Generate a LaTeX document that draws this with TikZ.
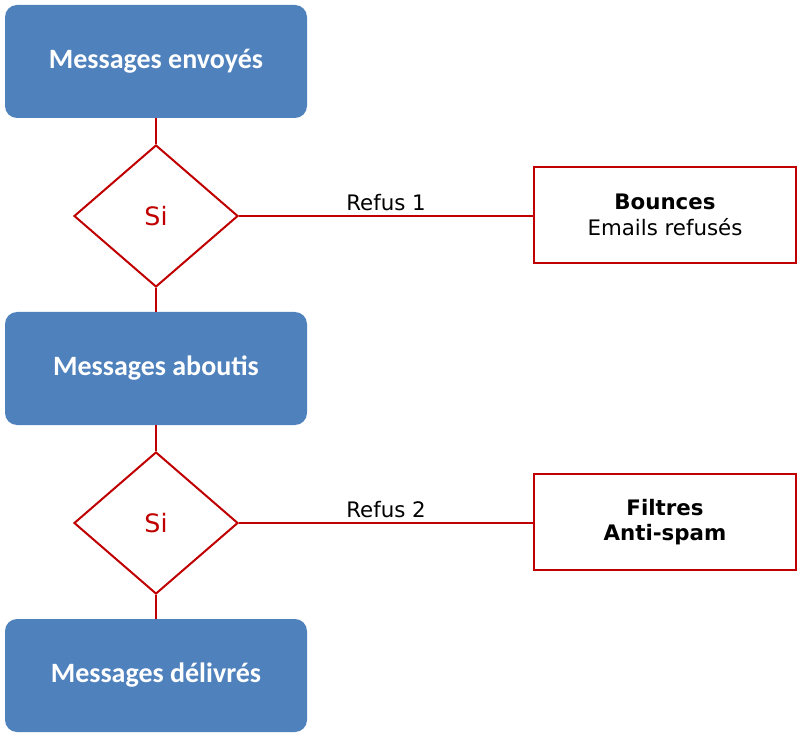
\documentclass[tikz,border=0pt]{standalone}
\usepackage{fontspec}
\setmainfont{DejaVu Sans}
\newfontfamily\boxfont{Carlito}
\usetikzlibrary{shapes.geometric}
\definecolor{boxblue}{HTML}{4F81BD}
\definecolor{refusred}{HTML}{C00000}
\begin{document}
\begin{tikzpicture}[x=0.75pt,y=-0.75pt]
    \tikzstyle{stage}=[rectangle,rounded corners=9pt,fill=boxblue,text=white,
      minimum width=226.5pt,minimum height=84.75pt,inner sep=0pt,
      font=\boxfont\bfseries\fontsize{21}{24}\selectfont]
    \tikzstyle{test}=[diamond,draw=refusred,line width=1.5pt,text=refusred,
      minimum width=123pt,minimum height=106.5pt,inner sep=0pt,aspect=1.15,
      font=\fontsize{19}{22}\selectfont]
    \tikzstyle{refus}=[rectangle,draw=refusred,line width=1.5pt,align=center,
      minimum width=196.5pt,minimum height=72pt,inner sep=0pt,
      font=\fontsize{16}{19}\selectfont]
    \tikzstyle{link}=[draw=refusred,line width=1.5pt]

    \useasboundingbox (0,0) rectangle (797,738);

    % main column
    \node[stage] (envoyes) at (156,61.5) {Messages envoyés};
    \node[test] (si-1) at (156,216) {Si};
    \node[stage] (aboutis) at (156,368.5) {Messages aboutis};
    \node[test] (si-2) at (156,523) {Si};
    \node[stage] (delivres) at (156,675.5) {Messages délivrés};

    % rejections
    \node[refus] (bounces) at (665,215) {\textbf{Bounces}\\Emails refusés};
    \node[refus] (filtres) at (665,522) {\textbf{Filtres}\\\textbf{Anti-spam}};

    \path[link] (envoyes) -- (si-1) -- (aboutis) -- (si-2) -- (delivres);
    \path[link] (si-1.east) -- node[above,text=black,font=\fontsize{16}{19}\selectfont] {Refus 1} (bounces.west |- si-1.east);
    \path[link] (si-2.east) -- node[above,text=black,font=\fontsize{16}{19}\selectfont] {Refus 2} (filtres.west |- si-2.east);
\end{tikzpicture}
\end{document}
